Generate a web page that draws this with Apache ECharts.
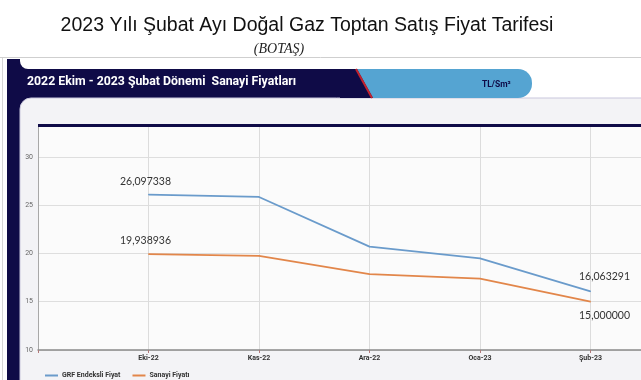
<!DOCTYPE html>
<html>
<head>
<meta charset="utf-8">
<script src="https://cdn.jsdelivr.net/npm/echarts@6/dist/echarts.min.js"></script>
<style>
html,body{margin:0;padding:0;background:#fff;}
#chart{width:641px;height:380px;}
</style>
</head>
<body>
<div id="chart"></div>
<script>
const categories = ['Eki-22', 'Kas-22', 'Ara-22', 'Oca-23', 'Şub-23'];
const grfValues = [26.097338, 25.85, 20.7, 19.5, 16.063291];
const sanayiValues = [19.938936, 19.75, 17.85, 17.4, 15.0];
const seriesNames = ['GRF Endeksli Fiyat', 'Sanayi Fiyatı'];
const yTicks = [10, 15, 20, 25, 30];

const NAVY = '#0f0b47';
const BLUE = '#6a9bcb';
const ORANGE = '#e2864a';

function fmt(v){ return (typeof v === 'number') ? v.toFixed(6).replace('.', ',') : ''; }

const axisCats = [''].concat(categories, ['']);
function buildData(vals, firstOffset, lastOffset, lastPos){
  const arr = ['-'];
  vals.forEach((v, i) => {
    const item = { value: v };
    if (i === 0) {
      item.label = { show: true, position: 'top', offset: firstOffset };
    } else if (i === vals.length - 1) {
      item.label = { show: true, position: lastPos, offset: lastOffset };
    }
    arr.push(item);
  });
  arr.push('-');
  return arr;
}

const labelStyle = {
  formatter: p => fmt(Array.isArray(p.value) ? p.value[1] : p.value),
  color: '#333333',
  fontFamily: 'Lato',
  fontSize: 10.5
};

const chart = echarts.init(document.getElementById('chart'), null, {renderer: 'canvas'});
chart.setOption({
  backgroundColor: '#ffffff',
  animation: false,
  title: [
    { text: '2023 Yılı Şubat Ayı Doğal Gaz Toptan Satış Fiyat Tarifesi',
      left: 302, top: 11, textAlign: 'center',
      textStyle: { fontFamily: 'Liberation Sans', fontSize: 19.5, fontWeight: 'normal', color: '#111' } },
    { text: '(BOTAŞ)', left: 274, top: 37, textAlign: 'center',
      textStyle: { fontFamily: 'Liberation Serif', fontStyle: 'italic', fontSize: 14, fontWeight: 'normal', color: '#222' } }
  ],
  graphic: [
    { type: 'line', shape: { x1: 0, y1: 57.5, x2: 641, y2: 57.5 }, style: { stroke: '#cfcfcf', lineWidth: 1 }, z: -20 },
    { type: 'line', shape: { x1: 2.5, y1: 58, x2: 2.5, y2: 380 }, style: { stroke: '#d6d6d6', lineWidth: 1 }, z: -20 },
    { type: 'rect', shape: { x: 7, y: 59, width: 370, height: 321 }, style: { fill: NAVY }, z: -19 },
    { type: 'rect', shape: { x: 20, y: 59, width: 630, height: 10, r: [0, 0, 0, 8] }, style: { fill: '#ffffff' }, z: -18 },
    { type: 'rect', shape: { x: 20, y: 98, width: 630, height: 290, r: [11, 0, 0, 0] }, style: { fill: '#f3f3f6', stroke: '#c9c7dc', lineWidth: 1 }, z: -18 },
    { type: 'rect', shape: { x: 350, y: 69, width: 182, height: 29, r: [0, 14, 14, 0] }, style: { fill: '#55a4d2' }, z: -17 },
    { type: 'polygon', shape: { points: [[340, 69], [357, 69], [373, 98], [340, 98]] }, style: { fill: NAVY }, z: -16 },
    { type: 'line', shape: { x1: 356, y1: 69, x2: 372, y2: 98 }, style: { stroke: '#c4222e', lineWidth: 2 }, z: -15 },
    { type: 'text', left: 27, top: 76, style: { text: '2022 Ekim - 2023 Şubat Dönemi  Sanayi Fiyatları', fill: '#ffffff', font: 'bold 12.3px Roboto' }, z: 5 },
    { type: 'text', left: 482, top: 80, style: { text: 'TL/Sm³', fill: NAVY, font: 'bold 8.5px Roboto' }, z: 5 },
    { type: 'rect', shape: { x: 38, y: 124, width: 603, height: 3 }, style: { fill: NAVY }, z: 10 }
  ],
  legend: {
    left: 40, top: 367,
    itemWidth: 13, itemHeight: 2, itemGap: 12,
    icon: 'rect',
    data: seriesNames,
    textStyle: { fontFamily: 'Roboto', fontWeight: 'bold', fontSize: 7, color: '#333', padding: [0, 0, 0, -1] }
  },
  grid: {
    left: 38, top: 126, width: 663, bottom: 30,
    outerBoundsMode: 'none', containLabel: false,
    show: true, backgroundColor: '#fbfbfb', borderWidth: 0
  },
  xAxis: {
    type: 'category',
    data: axisCats,
    boundaryGap: false,
    axisLine: { show: true, lineStyle: { color: '#8a8a8a', width: 1.5 } },
    axisTick: { show: true, length: 3, lineStyle: { color: '#b07a7a' } },
    axisLabel: { color: '#333', fontFamily: 'Roboto', fontWeight: 'bold', fontSize: 7, margin: 5 },
    splitLine: { show: true, lineStyle: { color: '#dcdcdc', width: 1 } }
  },
  yAxis: {
    type: 'value',
    min: yTicks[0], max: 33.2, interval: 5,
    axisLine: { show: true, lineStyle: { color: '#a8a8a8', width: 1 } },
    axisTick: { show: false },
    axisLabel: { color: '#666', fontFamily: 'Roboto', fontSize: 7, margin: 5, showMaxLabel: false,
      formatter: v => (yTicks.indexOf(v) >= 0 ? String(v) : '') },
    splitLine: { show: true, lineStyle: { color: '#dedede', width: 1 } }
  },
  series: [
    { name: seriesNames[0], type: 'line', data: buildData(grfValues, [-3, -2], [14, -4], 'top'),
      color: BLUE, lineStyle: { width: 1.8, color: BLUE }, symbol: 'circle', symbolSize: 1, showSymbol: true, showAllSymbol: true,
      itemStyle: { color: BLUE },
      label: Object.assign({ show: false }, labelStyle) },
    { name: seriesNames[1], type: 'line', data: buildData(sanayiValues, [-3, -2], [14, 3], 'bottom'),
      color: ORANGE, lineStyle: { width: 1.8, color: ORANGE }, symbol: 'circle', symbolSize: 1, showSymbol: true, showAllSymbol: true,
      itemStyle: { color: ORANGE },
      label: Object.assign({ show: false }, labelStyle) }
  ]
});
</script>
</body>
</html>
